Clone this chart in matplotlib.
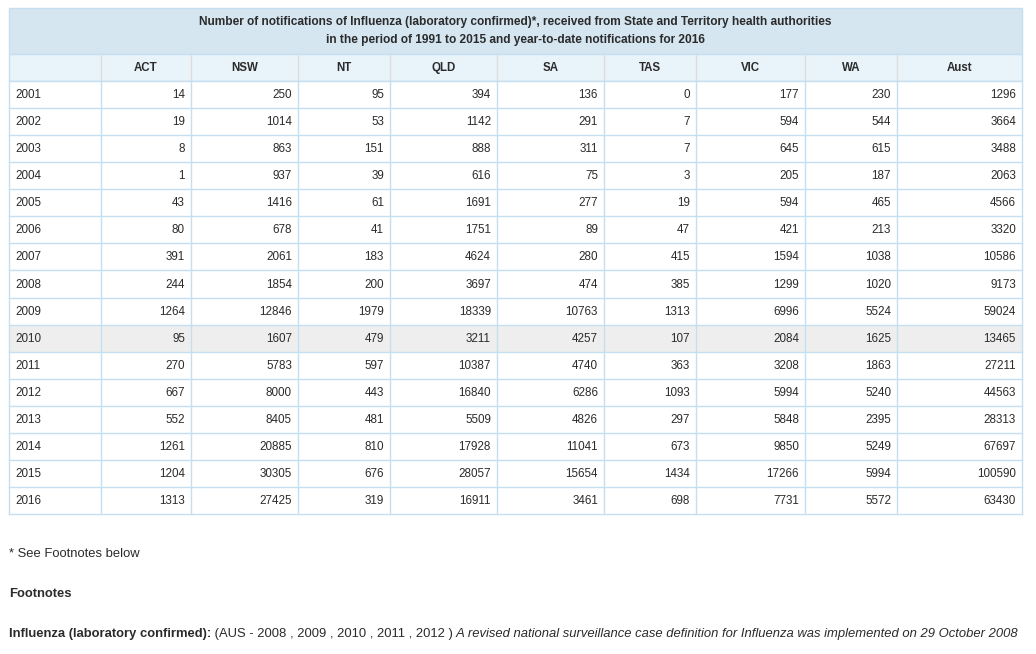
import matplotlib
matplotlib.use("Agg")
import matplotlib.pyplot as plt
from matplotlib.patches import Rectangle

plt.rcParams['font.family'] = ['Liberation Sans', 'DejaVu Sans']

# ---- data ----
title_lines = ["Number of notifications of Influenza (laboratory confirmed)*, received from State and Territory health authorities",
               "in the period of 1991 to 2015 and year-to-date notifications for 2016"]
columns = ["", "ACT", "NSW", "NT", "QLD", "SA", "TAS", "VIC", "WA", "Aust"]
years = [2001, 2002, 2003, 2004, 2005, 2006, 2007, 2008, 2009, 2010, 2011, 2012, 2013, 2014, 2015, 2016]
ACT = [14, 19, 8, 1, 43, 80, 391, 244, 1264, 95, 270, 667, 552, 1261, 1204, 1313]
NSW = [250, 1014, 863, 937, 1416, 678, 2061, 1854, 12846, 1607, 5783, 8000, 8405, 20885, 30305, 27425]
NT = [95, 53, 151, 39, 61, 41, 183, 200, 1979, 479, 597, 443, 481, 810, 676, 319]
QLD = [394, 1142, 888, 616, 1691, 1751, 4624, 3697, 18339, 3211, 10387, 16840, 5509, 17928, 28057, 16911]
SA = [136, 291, 311, 75, 277, 89, 280, 474, 10763, 4257, 4740, 6286, 4826, 11041, 15654, 3461]
TAS = [0, 7, 7, 3, 19, 47, 415, 385, 1313, 107, 363, 1093, 297, 673, 1434, 698]
VIC = [177, 594, 645, 205, 594, 421, 1594, 1299, 6996, 2084, 3208, 5994, 5848, 9850, 17266, 7731]
WA = [230, 544, 615, 187, 465, 213, 1038, 1020, 5524, 1625, 1863, 5240, 2395, 5249, 5994, 5572]
Aust = [1296, 3664, 3488, 2063, 4566, 3320, 10586, 9173, 59024, 13465, 27211, 44563, 28313, 67697, 100590, 63430]
highlight_year = 2010
footnote_star = "* See Footnotes below"
footnote_head = "Footnotes"
fn_bold = "Influenza (laboratory confirmed):"
fn_normal = " (AUS - 2008 , 2009 , 2010 , 2011 , 2012 )"
fn_italic = " A revised national surveillance case definition for Influenza was implemented on 29 October 2008"

series = [ACT, NSW, NT, QLD, SA, TAS, VIC, WA, Aust]

# ---- layout ----
W, H = 1036, 654
col_edges = [9, 101, 191, 298, 390, 497, 604, 696, 805, 897, 1022]
top = 8
title_bottom = 54
header_bottom = 81
row_h = 27.07

title_bg = "#d5e6f1"
header_bg = "#e9f4fa"
border = "#c6dff0"
hl_bg = "#eeeeee"
txt = "#2b2b2b"

fig = plt.figure(figsize=(W / 100, H / 100), dpi=100)
ax = fig.add_axes([0, 0, 1, 1])
ax.set_xlim(0, W)
ax.set_ylim(H, 0)
ax.axis("off")

left, right = col_edges[0], col_edges[-1]
# title band
ax.add_patch(Rectangle((left, top), right - left, title_bottom - top, facecolor=title_bg, edgecolor=border, lw=1))
ax.text((left + right) / 2, top + 14, title_lines[0], ha="center", va="center", fontsize=8.6, fontweight="bold", color=txt)
ax.text((left + right) / 2, top + 32.5, title_lines[1], ha="center", va="center", fontsize=8.6, fontweight="bold", color=txt)

# header row
ax.add_patch(Rectangle((left, title_bottom), right - left, header_bottom - title_bottom, facecolor=header_bg, edgecolor=border, lw=1))
for i, name in enumerate(columns):
    x0, x1 = col_edges[i], col_edges[i + 1]
    if i > 0:
        ax.plot([x0, x0], [title_bottom, header_bottom], color="#dddddd", lw=1)
    ax.text((x0 + x1) / 2, (title_bottom + header_bottom) / 2 + 0.5, name, ha="center", va="center",
            fontsize=8.3, fontweight="bold", color=txt)

# data rows
for r, yr in enumerate(years):
    y0 = header_bottom + r * row_h
    y1 = y0 + row_h
    fc = hl_bg if yr == highlight_year else "white"
    ax.add_patch(Rectangle((left, y0), right - left, row_h, facecolor=fc, edgecolor="none"))
    ax.plot([left, right], [y1, y1], color=border, lw=1)
    yc = (y0 + y1) / 2 + 0.5
    ax.text(left + 6, yc, str(yr), ha="left", va="center", fontsize=8.4, color=txt)
    for c, s in enumerate(series):
        xr = col_edges[c + 2]
        ax.text(xr - 6, yc, str(s[r]), ha="right", va="center", fontsize=8.4, color=txt)

table_bottom = header_bottom + len(years) * row_h
for x in col_edges:
    ax.plot([x, x], [header_bottom, table_bottom], color=border, lw=1)
ax.plot([left, right], [header_bottom, header_bottom], color=border, lw=1)

# footnotes
ax.text(left, 554, footnote_star, ha="left", va="center", fontsize=9.4, color=txt)
ax.text(left, 594, footnote_head, ha="left", va="center", fontsize=9.4, fontweight="bold", color=txt)

renderer = fig.canvas.get_renderer()
inv = ax.transData.inverted()
x = left
for s, kw in [(fn_bold, dict(fontweight="bold")), (fn_normal, {}), (fn_italic, dict(style="italic"))]:
    t = ax.text(x, 634, s, ha="left", va="center", fontsize=9.4, color=txt, **kw)
    bb = t.get_window_extent(renderer=renderer)
    x = inv.transform((bb.x1, 0))[0]

fig.savefig("out.png", dpi=100)
